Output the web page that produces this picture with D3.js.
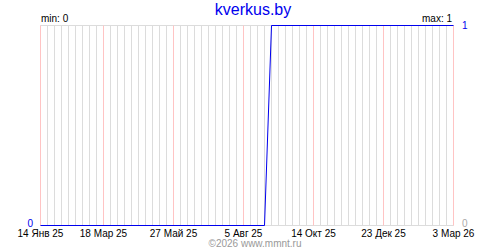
<!DOCTYPE html>
<html>
<head>
<meta charset="utf-8">
<script src="https://cdn.jsdelivr.net/npm/d3@7"></script>
<style>
  body { margin: 0; background: #fff; }
  text { font-family: "Liberation Sans", Arial, sans-serif; }
</style>
</head>
<body>
<script>
const pointDates = ["2025-01-14", "2025-08-26", "2025-09-02", "2026-03-03"];
const pointValues = [0, 0, 1, 1];
const tickDates = ["2025-01-14", "2025-03-18", "2025-05-27", "2025-08-05", "2025-10-14", "2025-12-23", "2026-03-03"];
const tickLabels = ["14 Янв 25", "18 Мар 25", "27 Май 25", "5 Авг 25", "14 Окт 25", "23 Дек 25", "3 Мар 26"];
const minValue = 0;
const maxValue = 1;

const w = 500, h = 250;
const parse = d3.utcParse("%Y-%m-%d");
const data = pointDates.map((d, i) => ({ date: parse(d), value: pointValues[i] }));
const ticks = tickDates.map(parse);

const x = d3.scaleUtc()
  .domain([ticks[0], ticks[ticks.length - 1]])
  .range([40.5, 453.5]);
const y = d3.scaleLinear()
  .domain([minValue, maxValue])
  .range([225.5, 25.5]);

const svg = d3.select("body").append("svg")
  .attr("width", w)
  .attr("height", h);

// weekly grid
const weekly = d3.utcDay.range(ticks[0], d3.utcDay.offset(ticks[ticks.length - 1], 1), 7);

svg.append("g").selectAll("line")
  .data(weekly)
  .enter().append("line")
  .attr("x1", d => x(d))
  .attr("x2", d => x(d))
  .attr("y1", y(maxValue))
  .attr("y2", y(minValue))
  .attr("stroke", "#dcdcdc");

svg.append("line")
  .attr("x1", x.range()[0]).attr("x2", x.range()[1])
  .attr("y1", y(maxValue)).attr("y2", y(maxValue))
  .attr("stroke", "#dcdcdc");
svg.append("line")
  .attr("x1", x.range()[0]).attr("x2", x.range()[1])
  .attr("y1", y(minValue)).attr("y2", y(minValue))
  .attr("stroke", "#dcdcdc");

// red major lines
svg.append("g").selectAll("line")
  .data(ticks)
  .enter().append("line")
  .attr("x1", d => x(d))
  .attr("x2", d => x(d))
  .attr("y1", y(maxValue))
  .attr("y2", y(minValue))
  .attr("stroke", "#ffc4c4");

// data line
const line = d3.line()
  .x(d => x(d.date))
  .y(d => y(d.value));
svg.append("path")
  .datum(data)
  .attr("d", line)
  .attr("fill", "none")
  .attr("stroke", "#0000ee")
  .attr("stroke-width", 1);

// tick labels
svg.append("g").selectAll("text")
  .data(ticks)
  .enter().append("text")
  .attr("x", d => x(d))
  .attr("y", 237)
  .attr("text-anchor", "middle")
  .attr("font-size", "10px")
  .attr("fill", "#000")
  .text((d, i) => tickLabels[i]);

// title
svg.append("text")
  .attr("x", 253)
  .attr("y", 15)
  .attr("text-anchor", "middle")
  .attr("font-size", "16px")
  .attr("fill", "#0000ee")
  .text("kverkus.by");

svg.append("text")
  .attr("x", 41)
  .attr("y", 22)
  .attr("font-size", "10px")
  .text("min: " + minValue);

svg.append("text")
  .attr("x", 452)
  .attr("y", 22)
  .attr("text-anchor", "end")
  .attr("font-size", "10px")
  .text("max: " + maxValue);

// value axis labels
svg.append("text")
  .attr("x", 33)
  .attr("y", 227)
  .attr("text-anchor", "end")
  .attr("font-size", "10px")
  .attr("fill", "#0000ee")
  .text(minValue);

svg.append("text")
  .attr("x", 462)
  .attr("y", 29)
  .attr("font-size", "10px")
  .attr("fill", "#0000ee")
  .text(maxValue);

svg.append("text")
  .attr("x", 462)
  .attr("y", 227)
  .attr("font-size", "10px")
  .attr("fill", "#aaa")
  .text(minValue);

svg.append("text")
  .attr("x", 255)
  .attr("y", 247)
  .attr("text-anchor", "middle")
  .attr("font-size", "10px")
  .attr("fill", "#999")
  .text("©2026 www.mmnt.ru");
</script>
</body>
</html>
